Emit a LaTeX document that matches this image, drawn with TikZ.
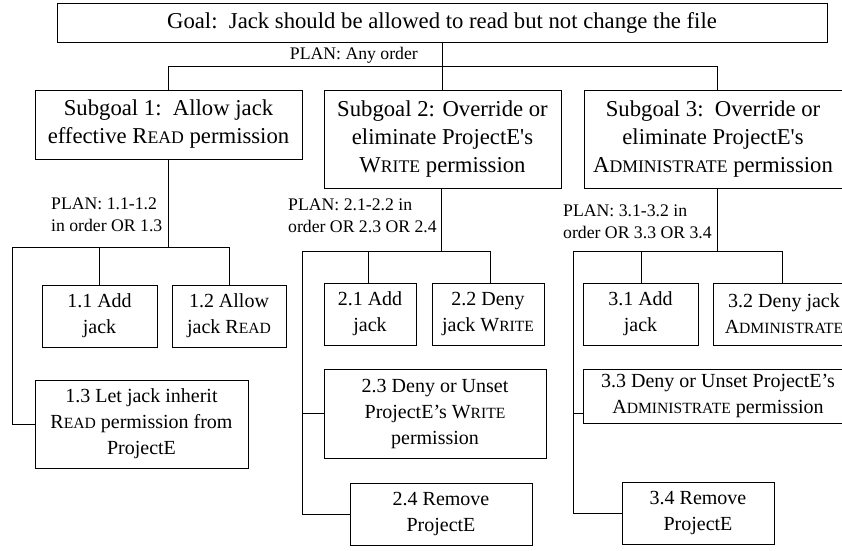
\documentclass[tikz,border=0pt]{standalone}
\usepackage{fontspec}
\setmainfont{Liberation Serif}
\newcommand{\smc}[1]{\scalebox{0.78}{#1}}
\newcommand{\sq}{\textquotesingle}
\begin{document}
\begin{tikzpicture}[x=1pt,y=-1pt,
  bigbox/.style={draw, line width=0.9pt, align=center, inner sep=0pt, font=\fontsize{22.7}{28}\selectfont},
  smallbox/.style={draw, line width=0.9pt, align=center, inner sep=0pt, font=\fontsize{20}{26}\selectfont},
  plan/.style={align=left, inner sep=0pt, font=\fontsize{17.7}{22}\selectfont},
  conn/.style={line width=0.9pt}]
\useasboundingbox (0,0) rectangle (842,550);
% goal and subgoals
\node[bigbox, minimum width=770pt, minimum height=39pt] (goal) at (442,22.5)
  {Goal:\ \ Jack should be allowed to read but not change the file};
\node[bigbox, minimum width=267pt, minimum height=69pt] (sg1) at (168.5,124.5)
  {Subgoal 1:\ \ Allow jack\\effective R\smc{EAD} permission};
\node[bigbox, minimum width=237pt, minimum height=98pt] (sg2) at (442.5,139)
  {Subgoal 2: Override or\\eliminate ProjectE\sq s\\W\smc{RITE} permission};
\node[bigbox, minimum width=258pt, minimum height=98pt] (sg3) at (713,139)
  {Subgoal 3:\ \ Override or\\eliminate ProjectE\sq s\\A\smc{DMINISTRATE} permission};
% leaves
\node[smallbox, minimum width=115pt, minimum height=62pt] (n11) at (99.5,316) {1.1 Add\\jack};
\node[smallbox, minimum width=114pt, minimum height=62pt] (n12) at (229,316) {1.2 Allow\\jack R\smc{EAD}};
\node[smallbox, minimum width=213pt, minimum height=88pt] (n13) at (141.5,424)
  {1.3 Let jack inherit\\R\smc{EAD} permission from\\ProjectE};
\node[smallbox, minimum width=92pt, minimum height=62pt] (n21) at (370,314) {2.1 Add\\jack};
\node[smallbox, minimum width=112pt, minimum height=62pt] (n22) at (488,314) {2.2 Deny\\jack W\smc{RITE}};
\node[smallbox, minimum width=222pt, minimum height=89pt] (n23) at (435,413.5)
  {2.3 Deny or Unset\\ProjectE’s W\smc{RITE}\\permission};
\node[smallbox, minimum width=182pt, minimum height=62pt] (n24) at (441,514) {2.4 Remove\\ProjectE};
\node[smallbox, minimum width=115pt, minimum height=62pt] (n31) at (640.5,314) {3.1 Add\\jack};
\node[smallbox, minimum width=142pt, minimum height=62pt] (n32) at (784,314) {3.2 Deny jack\\A\smc{DMINISTRATE}};
\node[smallbox, minimum width=270pt, minimum height=54pt] (n33) at (718,396)
  {3.3 Deny or Unset ProjectE’s\\A\smc{DMINISTRATE} permission};
\node[smallbox, minimum width=152pt, minimum height=62pt] (n34) at (698,513) {3.4 Remove\\ProjectE};
% plan labels
\node[plan, anchor=east] (p0) at (418,55) {PLAN: Any order};
\node[plan, anchor=west] (p1) at (51,215) {PLAN: 1.1-1.2\\in order OR 1.3};
\node[plan, anchor=west] (p2) at (288,216) {PLAN: 2.1-2.2 in\\order OR 2.3 OR 2.4};
\node[plan, anchor=west] (p3) at (563,222) {PLAN: 3.1-3.2 in\\order OR 3.3 OR 3.4};
% top connectors
\coordinate (t1) at (168,66);
\coordinate (t3) at (717,66);
\draw[conn] (t1 |- sg1.north) -- (t1) -- (t3) -- (t3 |- sg3.north);
\draw[conn] (goal.south) -- (goal.south |- sg2.north);
% subgoal 1
\coordinate (s1) at (168,247);
\coordinate (s1l) at (12,247);
\coordinate (s1m) at (99,247);
\coordinate (s1r) at (229,247);
\draw[conn] (s1 |- sg1.south) -- (s1);
\draw[conn] (n13.west) -- (s1l |- n13.west) -- (s1l) -- (s1r) -- (s1r |- n12.north);
\draw[conn] (s1m) -- (s1m |- n11.north);
% subgoal 2
\coordinate (s2) at (441,251);
\coordinate (s2l) at (302,251);
\coordinate (s2m) at (368,251);
\coordinate (s2r) at (490,251);
\draw[conn] (s2 |- sg2.south) -- (s2);
\draw[conn] (n24.west) -- (s2l |- n24.west) -- (s2l) -- (s2r) -- (s2r |- n22.north);
\draw[conn] (s2m) -- (s2m |- n21.north);
\draw[conn] (s2l |- n23.west) -- (n23.west);
% subgoal 3
\coordinate (s3) at (717,251);
\coordinate (s3l) at (573,251);
\coordinate (s3m) at (641,251);
\coordinate (s3r) at (782,251);
\coordinate (j33) at (573,413);
\draw[conn] (s3 |- sg3.south) -- (s3);
\draw[conn] (n34.west) -- (s3l |- n34.west) -- (s3l) -- (s3r) -- (s3r |- n32.north);
\draw[conn] (s3m) -- (s3m |- n31.north);
\draw[conn] (j33) -- (j33 -| n33.west);
\end{tikzpicture}
\end{document}
